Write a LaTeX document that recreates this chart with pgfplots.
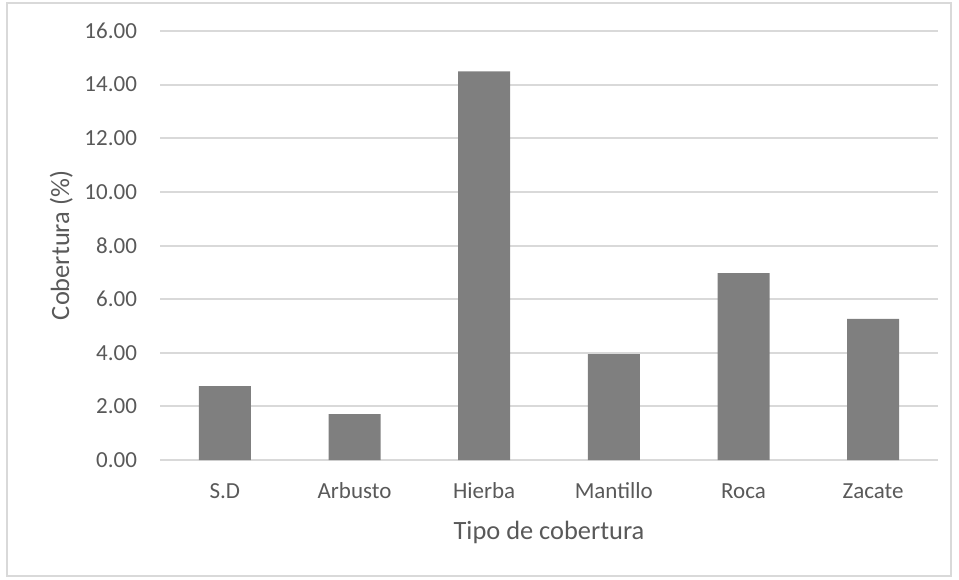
\documentclass[border=0pt]{standalone}
\usepackage{fontspec}
\setmainfont{Carlito}
\usepackage{pgfplots}
\pgfplotsset{compat=1.18}
\definecolor{barfill}{HTML}{7F7F7F}
\definecolor{gridc}{HTML}{D9D9D9}
\definecolor{txt}{HTML}{595959}
\begin{document}
\begin{tikzpicture}
  % page frame, 479.5pt x 289.5pt
  \useasboundingbox (0pt,0pt) rectangle (479.5pt,289.5pt);
  \draw[gridc, line width=1pt] (3.5pt,1.5pt) rectangle (475.5pt,288pt);
  \begin{axis}[
    at={(80pt,59.5pt)}, anchor=south west,
    scale only axis,
    width=389pt, height=214.5pt,
    xmin=-0.5, xmax=5.5,
    ymin=0, ymax=16,
    ytick={0,2,...,16},
    xtick={0,...,5},
    xticklabels={S.D, Arbusto, Hierba, Mantillo, Roca, Zacate},
    ymajorgrids,
    grid style={gridc, line width=1pt},
    axis line style={draw=none},
    major tick length=0pt,
    /pgf/number format/assume math mode=true,
    yticklabel={\pgfmathprintnumber[fixed,fixed zerofill,precision=2]{\tick}},
    tick label style={font=\fontsize{11.5}{13}\selectfont, text=txt},
    yticklabel style={xshift=-8pt},
    xticklabel style={yshift=-8pt, text height=1.6ex, text depth=0.3ex},
    xlabel={Tipo de cobertura},
    ylabel={Cobertura (\%)},
    label style={font=\fontsize{13.2}{15}\selectfont, text=txt},
    xlabel style={at={(axis description cs:0.5,-0.168)}, anchor=center},
    ylabel style={at={(axis description cs:-0.127,0.5)}, anchor=center},
    clip=false,
  ]
    % baseline at zero
    \draw[gridc, line width=1pt] (axis cs:-0.5,0) -- (axis cs:5.5,0);
    \addplot[ybar, bar width=26pt, fill=barfill, draw=none]
      coordinates {(0,2.76) (1,1.71) (2,14.49) (3,3.95) (4,6.97) (5,5.26)};
  \end{axis}
\end{tikzpicture}
\end{document}
